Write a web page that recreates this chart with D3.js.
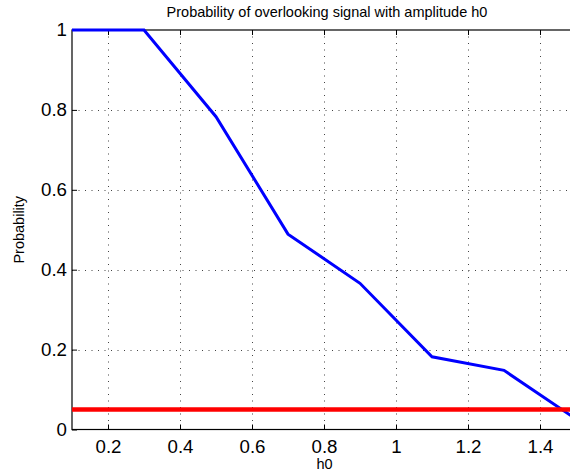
<!DOCTYPE html>
<html>
<head>
<meta charset="utf-8">
<script src="https://cdn.jsdelivr.net/npm/d3@7"></script>
<style>
  html, body { margin: 0; padding: 0; background: #fff; }
  svg { display: block; font-family: "Liberation Sans", Arial, Helvetica, sans-serif; }
</style>
</head>
<body>
<svg id="chart" width="570" height="475"></svg>
<script>
// Signal amplitude values and the measured probability of missing the signal
const amplitudes = [0.1, 0.3, 0.5, 0.7, 0.9, 1.1, 1.3, 1.5];
const missProbability = [1, 1, 0.783, 0.489, 0.366, 0.182, 0.148, 0.026];
const threshold = [0.05];

const xTicks = [0.2, 0.4, 0.6, 0.8, 1.0, 1.2, 1.4];
const yTicks = [0, 0.2, 0.4, 0.6, 0.8, 1];

const titleText = "Probability of overlooking signal with amplitude h0";
const xLabelText = "h0";
const yLabelText = "Probability";

const svg = d3.select("#chart");
const W = 570, H = 475;
svg.append("rect").attr("width", W).attr("height", H).attr("fill", "#fff");

const plotLeft = 72, plotRight = 576, plotTop = 30, plotBottom = 429.5;

const x = d3.scaleLinear().domain([0.1, 1.5]).range([plotLeft, plotRight]);
const y = d3.scaleLinear().domain([0, 1]).range([plotBottom, plotTop]);
const fmt = d3.format(".1~f");

// dotted grid
const grid = svg.append("g").attr("stroke", "#444").attr("stroke-width", 1)
  .attr("stroke-dasharray", "1,5.5");
grid.selectAll("line.vx").data(xTicks).join("line")
  .attr("x1", d => Math.round(x(d)) + 0.5).attr("x2", d => Math.round(x(d)) + 0.5)
  .attr("y1", plotTop).attr("y2", plotBottom);
grid.selectAll("line.hy").data(yTicks.filter(d => d > 0 && d < 1)).join("line")
  .attr("x1", plotLeft).attr("x2", plotRight)
  .attr("y1", d => Math.round(y(d)) + 0.5).attr("y2", d => Math.round(y(d)) + 0.5);

// axes with inward ticks
const xAxis = d3.axisBottom(x).tickValues(xTicks).tickFormat(fmt)
  .tickSizeInner(-5).tickSizeOuter(0).tickPadding(10.5);
const gx = svg.append("g").attr("transform", `translate(0,${plotBottom})`).call(xAxis);
gx.select(".domain").remove();
gx.selectAll("text").attr("font-size", 18.7).attr("fill", "#000")
  .attr("font-family", "Liberation Sans, Arial, sans-serif");
gx.selectAll("line").attr("stroke", "#000");

const xAxisTop = d3.axisTop(x).tickValues(xTicks).tickFormat("")
  .tickSizeInner(-5).tickSizeOuter(0);
const gxt = svg.append("g").attr("transform", `translate(0,${plotTop})`).call(xAxisTop);
gxt.select(".domain").remove();

const yAxis = d3.axisLeft(y).tickValues(yTicks).tickFormat(fmt)
  .tickSizeInner(-5).tickSizeOuter(0).tickPadding(5);
const gy = svg.append("g").attr("transform", `translate(${plotLeft},0)`).call(yAxis);
gy.select(".domain").remove();
gy.selectAll("text").attr("font-size", 18.7).attr("fill", "#000")
  .attr("font-family", "Liberation Sans, Arial, sans-serif");

// axes box
svg.append("rect")
  .attr("x", plotLeft).attr("y", plotTop)
  .attr("width", plotRight - plotLeft).attr("height", plotBottom - plotTop)
  .attr("fill", "none").attr("stroke", "#000").attr("stroke-width", 1.2);

// probability curve
const line = d3.line().x((d, i) => x(amplitudes[i])).y(d => y(d));
svg.append("path").datum(missProbability)
  .attr("d", line)
  .attr("fill", "none").attr("stroke", "#0000ff").attr("stroke-width", 3)
  .attr("stroke-linejoin", "miter");

// acceptance threshold
svg.selectAll("line.threshold").data(threshold).join("line")
  .attr("x1", plotLeft).attr("x2", plotRight)
  .attr("y1", d => y(d)).attr("y2", d => y(d))
  .attr("stroke", "#ff0000").attr("stroke-width", 4.5);

// labels
svg.append("text").text(titleText)
  .attr("x", 327).attr("y", 17).attr("text-anchor", "middle")
  .attr("font-size", 14.5).attr("fill", "#000");
svg.append("text").text(xLabelText)
  .attr("x", 324.5).attr("y", 469).attr("text-anchor", "middle")
  .attr("font-size", 14.5).attr("fill", "#000");
svg.append("text").text(yLabelText)
  .attr("transform", `translate(24,${(plotTop + plotBottom) / 2}) rotate(-90)`)
  .attr("text-anchor", "middle")
  .attr("font-size", 14.5).attr("fill", "#000");
</script>
</body>
</html>
